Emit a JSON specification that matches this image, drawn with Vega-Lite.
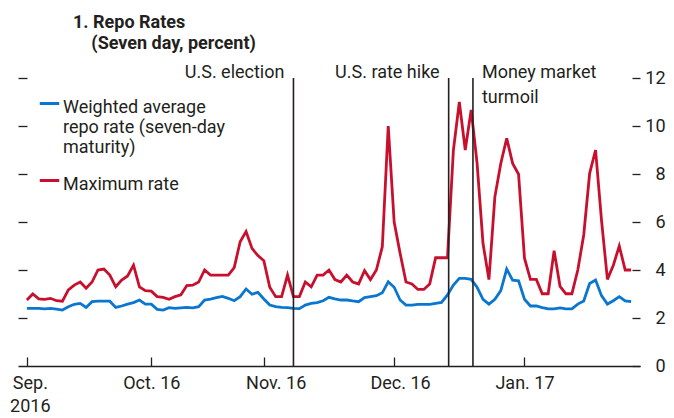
{
  "$schema": "https://vega.github.io/schema/vega-lite/v6.json",
  "width": 622,
  "height": 288,
  "autosize": {"type": "none"},
  "padding": {"left": 18, "top": 78, "right": 34, "bottom": 52},
  "background": "white",
  "config": {
    "font": "Roboto",
    "view": {"stroke": null},
    "axis": {"grid": false, "labelColor": "#231f20", "tickColor": "#231f20", "domainColor": "#231f20", "labelFont": "Roboto", "labelFontSize": 18}
  },
  "title": {
    "text": "1. Repo Rates",
    "subtitle": "\u200b\u2002\u2002(Seven day, percent)",
    "anchor": "start",
    "frame": "group",
    "dx": 55,
    "offset": 11,
    "font": "Roboto",
    "fontSize": 18,
    "fontWeight": "bold",
    "color": "#231f20",
    "subtitleFont": "Roboto",
    "subtitleFontSize": 18,
    "subtitleFontWeight": "bold",
    "subtitleColor": "#231f20",
    "subtitlePadding": 3
  },
  "datasets": {
    "rates": [
      {"day": 0, "weighted_avg": 2.40, "maximum": 2.75},
      {"day": 1, "weighted_avg": 2.40, "maximum": 3.00},
      {"day": 2, "weighted_avg": 2.40, "maximum": 2.80},
      {"day": 3, "weighted_avg": 2.38, "maximum": 2.78},
      {"day": 4, "weighted_avg": 2.40, "maximum": 2.82},
      {"day": 5, "weighted_avg": 2.37, "maximum": 2.72},
      {"day": 6, "weighted_avg": 2.33, "maximum": 2.70},
      {"day": 7, "weighted_avg": 2.47, "maximum": 3.17},
      {"day": 8, "weighted_avg": 2.57, "maximum": 3.37},
      {"day": 9, "weighted_avg": 2.61, "maximum": 3.50},
      {"day": 10, "weighted_avg": 2.44, "maximum": 3.24},
      {"day": 11, "weighted_avg": 2.68, "maximum": 3.50},
      {"day": 12, "weighted_avg": 2.70, "maximum": 4.00},
      {"day": 13, "weighted_avg": 2.70, "maximum": 4.04},
      {"day": 14, "weighted_avg": 2.70, "maximum": 3.79},
      {"day": 15, "weighted_avg": 2.44, "maximum": 3.30},
      {"day": 16, "weighted_avg": 2.50, "maximum": 3.58},
      {"day": 17, "weighted_avg": 2.58, "maximum": 3.75},
      {"day": 18, "weighted_avg": 2.64, "maximum": 4.20},
      {"day": 19, "weighted_avg": 2.75, "maximum": 3.30},
      {"day": 20, "weighted_avg": 2.58, "maximum": 3.14},
      {"day": 21, "weighted_avg": 2.58, "maximum": 3.12},
      {"day": 22, "weighted_avg": 2.36, "maximum": 2.89},
      {"day": 23, "weighted_avg": 2.33, "maximum": 2.86},
      {"day": 24, "weighted_avg": 2.43, "maximum": 2.78},
      {"day": 25, "weighted_avg": 2.40, "maximum": 2.89},
      {"day": 26, "weighted_avg": 2.42, "maximum": 2.97},
      {"day": 27, "weighted_avg": 2.44, "maximum": 3.35},
      {"day": 28, "weighted_avg": 2.42, "maximum": 3.37},
      {"day": 29, "weighted_avg": 2.47, "maximum": 3.50},
      {"day": 30, "weighted_avg": 2.75, "maximum": 4.00},
      {"day": 31, "weighted_avg": 2.79, "maximum": 3.79},
      {"day": 32, "weighted_avg": 2.85, "maximum": 3.79},
      {"day": 33, "weighted_avg": 2.90, "maximum": 3.79},
      {"day": 34, "weighted_avg": 2.82, "maximum": 3.79},
      {"day": 35, "weighted_avg": 2.72, "maximum": 4.10},
      {"day": 36, "weighted_avg": 2.89, "maximum": 5.18},
      {"day": 37, "weighted_avg": 3.21, "maximum": 5.60},
      {"day": 38, "weighted_avg": 2.99, "maximum": 4.90},
      {"day": 39, "weighted_avg": 3.07, "maximum": 4.60},
      {"day": 40, "weighted_avg": 2.79, "maximum": 4.39},
      {"day": 41, "weighted_avg": 2.54, "maximum": 3.28},
      {"day": 42, "weighted_avg": 2.47, "maximum": 2.89},
      {"day": 43, "weighted_avg": 2.44, "maximum": 2.89},
      {"day": 44, "weighted_avg": 2.43, "maximum": 3.79},
      {"day": 45, "weighted_avg": 2.40, "maximum": 2.89},
      {"day": 46, "weighted_avg": 2.39, "maximum": 2.89},
      {"day": 47, "weighted_avg": 2.54, "maximum": 3.50},
      {"day": 48, "weighted_avg": 2.61, "maximum": 3.30},
      {"day": 49, "weighted_avg": 2.64, "maximum": 3.79},
      {"day": 50, "weighted_avg": 2.72, "maximum": 3.79},
      {"day": 51, "weighted_avg": 2.86, "maximum": 4.00},
      {"day": 52, "weighted_avg": 2.80, "maximum": 3.60},
      {"day": 53, "weighted_avg": 2.75, "maximum": 3.50},
      {"day": 54, "weighted_avg": 2.75, "maximum": 3.79},
      {"day": 55, "weighted_avg": 2.71, "maximum": 3.50},
      {"day": 56, "weighted_avg": 2.68, "maximum": 3.42},
      {"day": 57, "weighted_avg": 2.85, "maximum": 3.97},
      {"day": 58, "weighted_avg": 2.89, "maximum": 3.60},
      {"day": 59, "weighted_avg": 2.93, "maximum": 4.00},
      {"day": 60, "weighted_avg": 3.05, "maximum": 4.97},
      {"day": 61, "weighted_avg": 3.51, "maximum": 10.00},
      {"day": 62, "weighted_avg": 3.28, "maximum": 6.00},
      {"day": 63, "weighted_avg": 2.75, "maximum": 4.70},
      {"day": 64, "weighted_avg": 2.54, "maximum": 3.50},
      {"day": 65, "weighted_avg": 2.54, "maximum": 3.42},
      {"day": 66, "weighted_avg": 2.57, "maximum": 3.19},
      {"day": 67, "weighted_avg": 2.57, "maximum": 3.19},
      {"day": 68, "weighted_avg": 2.57, "maximum": 3.42},
      {"day": 69, "weighted_avg": 2.61, "maximum": 4.51},
      {"day": 70, "weighted_avg": 2.65, "maximum": 4.51},
      {"day": 71, "weighted_avg": 2.96, "maximum": 4.51},
      {"day": 72, "weighted_avg": 3.37, "maximum": 9.00},
      {"day": 73, "weighted_avg": 3.65, "maximum": 11.00},
      {"day": 74, "weighted_avg": 3.65, "maximum": 9.00},
      {"day": 75, "weighted_avg": 3.61, "maximum": 10.67},
      {"day": 76, "weighted_avg": 3.28, "maximum": 8.44},
      {"day": 77, "weighted_avg": 2.78, "maximum": 5.10},
      {"day": 78, "weighted_avg": 2.58, "maximum": 3.60},
      {"day": 79, "weighted_avg": 2.78, "maximum": 7.05},
      {"day": 80, "weighted_avg": 3.14, "maximum": 8.44},
      {"day": 81, "weighted_avg": 4.04, "maximum": 9.49},
      {"day": 82, "weighted_avg": 3.58, "maximum": 8.44},
      {"day": 83, "weighted_avg": 3.55, "maximum": 7.99},
      {"day": 84, "weighted_avg": 2.78, "maximum": 4.49},
      {"day": 85, "weighted_avg": 2.50, "maximum": 3.61},
      {"day": 86, "weighted_avg": 2.50, "maximum": 3.61},
      {"day": 87, "weighted_avg": 2.43, "maximum": 3.01},
      {"day": 88, "weighted_avg": 2.38, "maximum": 3.01},
      {"day": 89, "weighted_avg": 2.38, "maximum": 4.80},
      {"day": 90, "weighted_avg": 2.42, "maximum": 3.32},
      {"day": 91, "weighted_avg": 2.38, "maximum": 3.01},
      {"day": 92, "weighted_avg": 2.38, "maximum": 3.01},
      {"day": 93, "weighted_avg": 2.58, "maximum": 4.00},
      {"day": 94, "weighted_avg": 2.71, "maximum": 5.46},
      {"day": 95, "weighted_avg": 3.44, "maximum": 8.03},
      {"day": 96, "weighted_avg": 3.58, "maximum": 9.00},
      {"day": 97, "weighted_avg": 2.93, "maximum": 6.08},
      {"day": 98, "weighted_avg": 2.58, "maximum": 3.61},
      {"day": 99, "weighted_avg": 2.72, "maximum": 4.20},
      {"day": 100, "weighted_avg": 2.89, "maximum": 5.00},
      {"day": 101, "weighted_avg": 2.71, "maximum": 4.00},
      {"day": 102, "weighted_avg": 2.68, "maximum": 4.00}
    ],
    "events": [
      {"event": "U.S. election", "day": 45, "label": "U.S. election"},
      {"event": "U.S. rate hike", "day": 71.2, "label": "U.S. rate hike"},
      {"event": "Money market turmoil", "day": 75.3, "label": ["Money market", "turmoil"]}
    ]
  },
  "resolve": {"axis": {"x": "independent", "y": "independent"}},
  "layer": [
    {
      "data": {"name": "rates"},
      "transform": [{"fold": ["weighted_avg", "maximum"], "as": ["series", "rate"]}],
      "mark": {"type": "line", "strokeWidth": 2.8},
      "encoding": {
        "x": {
          "field": "day", "type": "quantitative",
          "scale": {"domain": [-1.5, 103.5], "nice": false, "zero": false},
          "axis": {"orient": "bottom", "title": null, "values": [0, 21, 40, 62, 84], "labels": false, "tickSize": -9, "tickWidth": 1.3, "domainWidth": 1.5}
        },
        "y": {
          "field": "rate", "type": "quantitative",
          "scale": {"domain": [0, 12], "nice": false},
          "axis": {"orient": "left", "title": null, "values": [2, 4, 6, 8, 10, 12], "labels": false, "domain": false, "tickSize": -9, "tickWidth": 1.3}
        },
        "color": {
          "field": "series", "type": "nominal",
          "scale": {"domain": ["weighted_avg", "maximum"], "range": ["#0a76d0", "#c8102e"]},
          "legend": {
            "orient": "none", "legendX": 20, "legendY": 14, "title": null,
            "padding": 0,
            "symbolType": "stroke", "symbolSize": 380, "symbolStrokeWidth": 3,
            "labelFont": "Roboto",
            "labelFontSize": 18, "labelColor": "#231f20", "labelLimit": 400, "labelOffset": 2,
            "labelBaseline": "alphabetic", "labelLineHeight": 23.5,
            "rowPadding": 12,
            "labelExpr": "datum.label == 'weighted_avg' ? ['Weighted average', 'repo rate (seven-day', 'maturity)'] : 'Maximum rate'",
            "encode": {"labels": {"update": {"dy": {"value": 9}}}}
          }
        }
      }
    },
    {
      "data": {"name": "events"},
      "mark": {"type": "rule", "color": "#231f20", "strokeWidth": 1.6},
      "encoding": {
        "x": {
          "field": "day", "type": "quantitative",
          "axis": {"orient": "bottom", "title": null, "values": [0.5, 21, 42, 63, 84], "ticks": false, "domain": false, "labelPadding": 8, "labelLineHeight": 23, "labelFlush": false, "labelOverlap": false, "labelBaseline": "top",
            "labelExpr": "datum.value < 1 ? ['Sep.', '2016'] : datum.value < 30 ? 'Oct. 16' : datum.value < 50 ? 'Nov. 16' : datum.value < 70 ? 'Dec. 16' : 'Jan. 17'"}
        },
        "y": {
          "datum": 0, "type": "quantitative",
          "axis": {"orient": "right", "title": null, "values": [0, 2, 4, 6, 8, 10, 12], "domain": false, "tickSize": -8, "tickWidth": 1.3, "labelAlign": "right", "labelPadding": 33, "labelBaseline": "middle"}
        },
        "y2": {"datum": 12}
      }
    },
    {
      "data": {"name": "events"},
      "transform": [{"filter": "datum.event != 'Money market turmoil'"}],
      "mark": {"type": "text", "align": "right", "baseline": "alphabetic", "dx": -9, "fontSize": 18, "font": "Roboto", "color": "#231f20"},
      "encoding": {
        "x": {"field": "day", "type": "quantitative", "axis": null},
        "y": {"datum": 12, "type": "quantitative", "axis": null},
        "text": {"field": "label"}
      }
    },
    {
      "data": {"name": "events"},
      "transform": [{"filter": "datum.event == 'Money market turmoil'"}],
      "mark": {"type": "text", "align": "left", "baseline": "alphabetic", "dx": 9, "fontSize": 18, "font": "Roboto", "lineHeight": 25, "color": "#231f20"},
      "encoding": {
        "x": {"field": "day", "type": "quantitative", "axis": null},
        "y": {"datum": 12, "type": "quantitative", "axis": null},
        "text": {"field": "label"}
      }
    }
  ]
}
